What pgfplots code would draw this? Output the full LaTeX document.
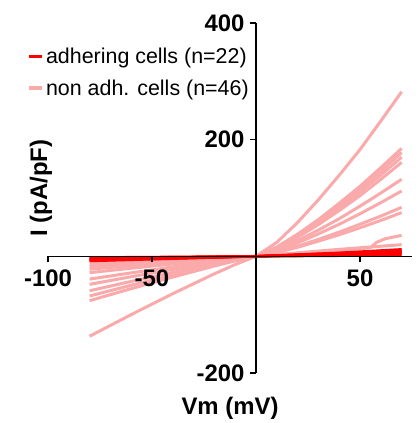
\documentclass[border=0pt]{standalone}
\usepackage{fontspec}
\setmainfont{Liberation Sans}
\usepackage{pgfplots}
\pgfplotsset{compat=1.18}
\definecolor{adh}{RGB}{255,0,0}
\definecolor{nonadh}{RGB}{250,170,170}
\begin{document}
\begin{tikzpicture}
\begin{axis}[name=ax, scale only axis, width=364bp, height=350bp,
  xmin=-100, xmax=75, ymin=-200, ymax=400,
  axis lines=middle, axis line style={-, line width=1.2bp, black},
  axis on top,
  xtick={-100,-50,50}, xticklabels={-100,-50,50},
  ytick={-200,200,400}, yticklabels={-200,200,400},
  tick align=outside, major tick length=6bp, tick style={line width=1.2bp, black},
  tick label style={font=\fontsize{24}{28}\selectfont\bfseries},
  xticklabel style={anchor=north, yshift=-4bp},
  yticklabel style={anchor=east, xshift=-2bp},
  clip=false,
  legend style={at={(axis description cs:-0.058,0.935)}, anchor=north west,
    draw=none, fill=none, font=\fontsize{21.5}{25}\selectfont,
    cells={anchor=west}, row sep=11bp, inner sep=0pt},
  legend image code/.code={\draw[#1] (0bp,0bp) -- (13bp,0bp);},
]
\addlegendimage{adh, line width=3bp}
\addlegendentry{adhering cells (n=22)}
\addlegendimage{nonadh, line width=4bp}
\addlegendentry{non adh. cells (n=46)}

% non adherent cells
\addplot[nonadh, line width=3bp, forget plot] coordinates {
(-80,-137) (-60,-99.9) (-40,-64.0) (-20,-29.9) (-10,-14.0) (0,0) (10,24) (20,58) (30,97) (40,139) (50,183) (60,232) (70,282)};
\addplot[nonadh, line width=3bp, forget plot] coordinates {
(-80,-76) (-60,-55.4) (-40,-35.5) (-20,-16.6) (-10,-7.8) (0,0) (10,16) (20,38) (30,63) (40,91) (50,120) (60,152) (70,185)};
\addplot[nonadh, line width=3bp, forget plot] coordinates {
(-80,-68) (-60,-49.6) (-40,-31.8) (-20,-14.8) (-10,-6.9) (0,0) (10,15) (20,36) (30,60.5) (40,87) (50,115.5) (60,146) (70,178)};
\addplot[nonadh, line width=3bp, forget plot] coordinates {
(-80,-59) (-60,-43.0) (-40,-27.6) (-20,-12.9) (-10,-6.0) (0,0) (10,14.5) (20,34.5) (30,58) (40,83) (50,110) (60,139.5) (70,170)};
\addplot[nonadh, line width=3bp, forget plot] coordinates {
(-80,-48) (-60,-35.0) (-40,-22.4) (-20,-10.5) (-10,-4.9) (0,0) (10,13.5) (20,32.5) (30,54.5) (40,78.5) (50,104) (60,132) (70,161)};
\addplot[nonadh, line width=3bp, forget plot] coordinates {
(-80,-39) (-60,-28.4) (-40,-18.2) (-20,-8.5) (-10,-4.0) (0,0) (10,11.5) (20,27) (30,45) (40,64.5) (50,86) (60,108.5) (70,132)};
\addplot[nonadh, line width=3bp, forget plot] coordinates {
(-80,-28) (-60,-20.4) (-40,-13.1) (-20,-6.1) (-10,-2.9) (0,0) (10,10) (20,23) (30,38.5) (40,55) (50,73) (60,92) (70,112)};
\addplot[nonadh, line width=3bp, forget plot] coordinates {
(-80,-22) (-60,-16.0) (-40,-10.3) (-20,-4.8) (-10,-2.2) (0,0) (10,7.5) (20,17.5) (30,29) (40,41.5) (50,55) (60,69) (70,84)};
\addplot[nonadh, line width=3bp, forget plot] coordinates {
(-80,-14) (-60,-10.2) (-40,-6.5) (-20,-3.1) (-10,-1.4) (0,0) (10,6.5) (20,15.5) (30,26) (40,37) (50,49) (60,61.5) (70,75)};
\addplot[nonadh, line width=3bp, forget plot] coordinates {
(-80,-10) (-60,-7.5) (-40,-5) (-20,-2.5) (0,0) (20,5) (40,10) (50,13) (55,15) (58,24) (62,30) (70,36)};
\addplot[nonadh, line width=3bp, forget plot] coordinates {
(-80,-18) (-60,-13.1) (-40,-8.4) (-20,-3.9) (0,0) (20,6) (40,12) (55,16) (70,20)};

% adhering cells
\addplot[adh, line width=2.5bp, forget plot] coordinates {(-80,-8) (-40,-4) (0,0) (40,6) (70,12)};
\addplot[adh, line width=2.5bp, forget plot] coordinates {(-80,-6) (-40,-3) (0,0) (40,5) (70,9)};
\addplot[adh, line width=2.5bp, forget plot] coordinates {(-80,-5) (-40,-2.5) (0,0) (40,4) (70,7)};
\addplot[adh, line width=2.5bp, forget plot] coordinates {(-80,-4) (-40,-2) (0,0) (40,3) (70,5)};
\addplot[adh, line width=2.5bp, forget plot] coordinates {(-80,-3) (-40,-1.5) (0,0) (40,2) (70,4)};
\addplot[adh, line width=2.5bp, forget plot] coordinates {(-80,-2) (-40,-1) (0,0) (40,1) (70,2)};
\addplot[adh, line width=2.5bp, forget plot] coordinates {(-80,-7) (-40,-3.5) (0,0) (40,5.5) (70,10)};
\end{axis}
\node[font=\fontsize{24}{28}\selectfont\bfseries] at ([yshift=-35bp]ax.south) {Vm (mV)};
\node[font=\fontsize{24}{28}\selectfont\bfseries, rotate=90] at ([xshift=-7bp, yshift=10bp]ax.west) {I (pA/pF)};
\pgfresetboundingbox
\path ([shift={(-48bp,-50bp)}]ax.south west) rectangle ([shift={(6bp,23bp)}]ax.north east);
\end{tikzpicture}
\end{document}
